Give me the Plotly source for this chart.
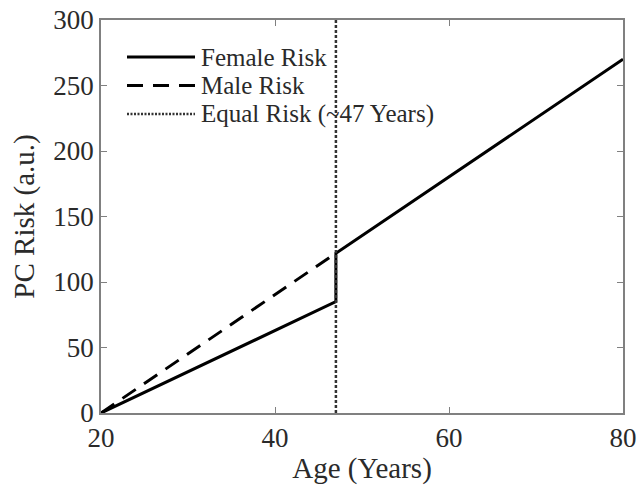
import plotly.graph_objects as go

female_age = [20, 47, 47, 80]
female_risk = [0, 85, 122, 270]
male_age = [20, 47]
male_risk = [0, 122]
equal_age = [47, 47]
equal_risk = [0, 300]

legend_labels = ["Female Risk", "Male Risk", "Equal Risk (~47 Years)"]

font_family = "Liberation Serif"
text_color = "#2a2a2a"
axis_color = "#808080"

W, H = 639, 487
L, R, T, B = 101, 16, 20, 74
pw, ph = W - L - R, H - T - B

styles = [
    dict(color="black", width=3),
    dict(color="black", width=3, dash="16px,10px"),
    dict(color="#333333", width=2.5, dash="3px,2px"),
]
legend_dash = [None, "16px,10px", "2px,1.5px"]

fig = go.Figure()
for xs, ys, name, st in zip([female_age, male_age, equal_age],
                            [female_risk, male_risk, equal_risk],
                            legend_labels, styles):
    fig.add_trace(go.Scatter(x=xs, y=ys, mode="lines", name=name, line=st, showlegend=False))

# custom legend (long sample lines like the reference)
def px_x(p):
    return (p - L) / pw

def px_y(p):
    return (H - B - p) / ph

leg_x0, leg_x1, text_x = 127, 195, 199
row_y = [57, 85.5, 114]
for label, st, dsh, yy in zip(legend_labels, styles, legend_dash, row_y):
    lst = dict(color=st["color"], width=st["width"])
    if dsh:
        lst["dash"] = dsh
    fig.add_shape(type="line", xref="paper", yref="paper",
                  x0=px_x(leg_x0), x1=px_x(leg_x1), y0=px_y(yy), y1=px_y(yy), line=lst)
    fig.add_annotation(xref="paper", yref="paper", x=px_x(text_x), y=px_y(yy),
                       xanchor="left", yanchor="middle", text=label, showarrow=False,
                       font=dict(family=font_family, size=25, color=text_color))

axis_common = dict(showline=True, linecolor=axis_color, linewidth=1.5, mirror="ticks",
                   ticks="inside", ticklen=6, tickcolor=axis_color, tickwidth=1.2,
                   showgrid=False, zeroline=False, automargin=False,
                   tickfont=dict(family=font_family, size=27, color=text_color))

fig.update_layout(
    width=W, height=H,
    margin=dict(l=L, r=R, t=T, b=B),
    paper_bgcolor="white", plot_bgcolor="white",
    font=dict(family=font_family, color=text_color),
    showlegend=False,
    xaxis=dict(range=[20, 80], tickvals=[20, 40, 60, 80],
               title=dict(text="Age (Years)", font=dict(size=29, family=font_family, color=text_color), standoff=6),
               **axis_common),
    yaxis=dict(range=[0, 300], tickvals=[0, 50, 100, 150, 200, 250, 300],
               title=dict(text="PC Risk (a.u.)", font=dict(size=29, family=font_family, color=text_color), standoff=10),
               **axis_common),
)

fig.write_html("out.html", config={"displayModeBar": False},
               post_script="document.body.style.margin='0px';")
